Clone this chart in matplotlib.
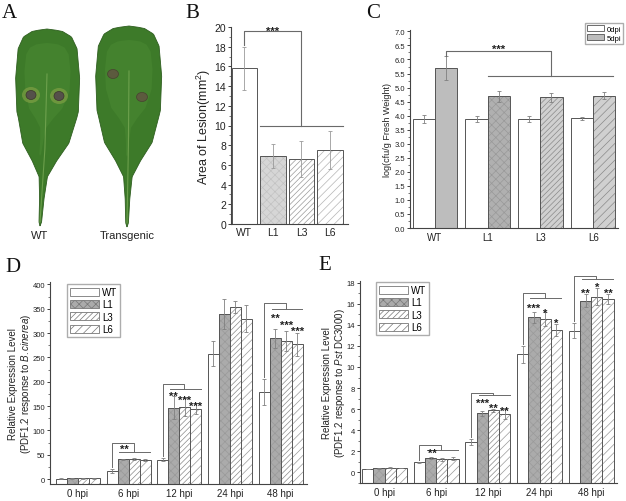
import numpy as np
import matplotlib
matplotlib.use("Agg")
import matplotlib.pyplot as plt
from matplotlib.patches import Polygon, Ellipse, Patch
from matplotlib.ticker import MultipleLocator, FormatStrFormatter

plt.rcParams["font.family"] = ["Liberation Sans", "DejaVu Sans"]
plt.rcParams["mathtext.fontset"] = "custom"
plt.rcParams["mathtext.rm"] = "Liberation Sans"
plt.rcParams["mathtext.it"] = "Liberation Sans:italic"
plt.rcParams["hatch.linewidth"] = 0.5

W, H = 626, 502

# ---- data ----
LINES = ["WT", "L1", "L3", "L6"]

# B: lesion area (mm^2)
lesion_area = [15.8, 6.9, 6.6, 7.5]
lesion_err = [2.2, 1.25, 1.85, 1.95]

# C: log(cfu/g fresh weight)
cfu_0dpi = [3.89, 3.89, 3.89, 3.91]
cfu_0dpi_err = [0.14, 0.10, 0.10, 0.05]
cfu_5dpi = [5.69, 4.69, 4.65, 4.71]
cfu_5dpi_err = [0.43, 0.20, 0.15, 0.12]

HPI = ["0 hpi", "6 hpi", "12 hpi", "24 hpi", "48 hpi"]

# D: PDF1.2 response to B. cinerea
bc_wt = [1.2, 17, 40, 258, 179]
bc_l1 = [1.3, 40.5, 147, 340, 289]
bc_l3 = [1.4, 41, 148, 354, 284]
bc_l6 = [1.3, 39, 145, 330, 277]
bc_wt_err = [0.3, 4, 3, 25, 27]
bc_l1_err = [0.3, 1.5, 24, 31, 19]
bc_l3_err = [0.3, 2, 19, 12, 21]
bc_l6_err = [0.3, 1.5, 12, 27, 24]
# group index -> (bracket top, right line)
bc_brackets = {1: (75, 55), 2: (195, 186), 4: (361, 349)}
bc_group_star = {1: ("**", 70)}
# group index -> stars over L1, L3, L6 and the heights they sit at
bc_bar_stars = {2: ["**", "***", "***"], 4: ["**", "***", "***"]}
bc_star_y = {2: [178, 170, 158], 4: [338, 325, 311]}

# E: PDF1.2 response to Pst DC3000
pst_wt = [0.31, 0.95, 2.88, 11.2, 13.45]
pst_l1 = [0.38, 1.33, 5.6, 14.7, 16.3]
pst_l3 = [0.45, 1.26, 5.88, 14.55, 16.65]
pst_l6 = [0.43, 1.3, 5.52, 13.5, 16.45]
pst_wt_err = [0.02, 0.08, 0.3, 0.8, 0.75]
pst_l1_err = [0.03, 0.10, 0.25, 0.5, 0.6]
pst_l3_err = [0.03, 0.15, 0.15, 0.7, 0.8]
pst_l6_err = [0.03, 0.12, 0.45, 0.6, 0.5]
pst_brackets = {1: (2.6, 2.15), 2: (7.55, 7.3), 3: (16.97, 16.5), 4: (18.63, 18.38)}
pst_group_star = {1: ("**", 2.15)}
pst_bar_stars = {2: ["***", "**", "**"], 3: ["***", "*", "*"], 4: ["**", "*", "**"]}
pst_star_y = {2: [6.95, 6.45, 6.2], 3: [15.95, 15.5, 14.55], 4: [17.4, 17.9, 17.4]}

EDGE = "#555555"
ERR = "#808080"
BRK = "#6a6a6a"
STYLES = [
    dict(face="white", hcol=EDGE, hatch=None),
    dict(face="#ababab", hcol="#9a9a9a", hatch="xxxx"),
    dict(face="white", hcol="#8a8a8a", hatch="//////"),
    dict(face="white", hcol="#9a9a9a", hatch="////"),
]
STAR_SIZE = 8


def rect(l, t, r, b):
    return [l / W, 1 - b / H, (r - l) / W, (b - t) / H]


def style_axes(ax, ylabsize=5.5):
    for s in ("top", "right"):
        ax.spines[s].set_visible(False)
    for s in ("left", "bottom"):
        ax.spines[s].set_color("#444444")
        ax.spines[s].set_linewidth(0.8)
    ax.tick_params(axis="y", which="major", direction="out", length=2.5, width=0.6,
                   labelsize=ylabsize, pad=1, colors="#222222")
    ax.tick_params(axis="y", which="minor", direction="out", length=1.5, width=0.5, colors="#444444")
    ax.tick_params(axis="x", length=0, pad=3, labelsize=7, colors="#222222")


def hatched_bar(ax, x, h, width, st, bottom=0):
    ax.bar(x, h, width, bottom=bottom, color=st["face"], edgecolor=st["hcol"],
           linewidth=0, hatch=st["hatch"])
    ax.bar(x, h, width, bottom=bottom, fill=False, edgecolor=EDGE, linewidth=0.7)


def star(ax, x, y, s):
    # the asterisk glyph sits high above the baseline; shift so its middle is at y
    ax.annotate(s, (x, y), xytext=(0, -0.58 * STAR_SIZE), textcoords="offset points",
                ha="center", va="baseline", fontsize=STAR_SIZE, fontweight="bold",
                color="#222222", annotation_clip=False)


def leaf_outline(cx, top, bottom, half_w, tip_x, skew=0.0):
    # generic leaf profile (fraction along length, fraction of half width)
    prof_s = [0, 0.01, 0.04, 0.1, 0.25, 0.42, 0.58, 0.67, 0.75, 0.86, 0.98, 1.0]
    prof_w = [0, 0.45, 0.75, 0.92, 1.0, 0.96, 0.72, 0.38, 0.13, 0.07, 0.04, 0.0]
    s = np.linspace(0, 1, 160)
    w = np.interp(s, prof_s, prof_w) * half_w
    y = top + s * (bottom - top)
    mid = cx + (tip_x - cx) * np.clip((s - 0.45) / 0.55, 0, 1)
    right = np.column_stack([mid + w * (1 + skew), y])
    left = np.column_stack([mid - w * (1 - skew), y])[::-1]
    return np.vstack([right, left])


fig = plt.figure(figsize=(W / 100, H / 100), dpi=100)

# ---- A: leaves ----
axA = fig.add_axes(rect(0, 0, 190, 250))
axA.set_xlim(0, 190)
axA.set_ylim(250, 0)
axA.axis("off")
leaves = [("WT", 47, 30, 227, 32, 40, 0.02), ("Transgenic", 129, 27, 228, 33, 127, -0.01)]
for name, cx, top, bottom, hw, tip, sk in leaves:
    pts = leaf_outline(cx, top, bottom, hw, tip, sk)
    axA.add_patch(Polygon(pts, closed=True, facecolor="#3d7a29", edgecolor="#2e5e1f", linewidth=0.6))
    inner = leaf_outline(cx, top + 14, bottom - 70, hw * 0.72, tip, sk)
    axA.add_patch(Polygon(inner, closed=True, facecolor="#4b8b33", edgecolor="none", alpha=0.5))
    axA.plot([cx, cx + (tip - cx) * 0.3, tip], [top + 45, top + 120, bottom - 4],
             color="#7fae5a", linewidth=0.8, alpha=0.7)
    axA.text(tip, 236, name, ha="center", va="center", fontsize=8, color="#222222")
wt_spots = [(31, 96), (59, 97)]
tg_spots = [(113, 75), (142, 98)]
for x, y in wt_spots:
    axA.add_patch(Ellipse((x, y), 18, 16, facecolor="#8fa84a", edgecolor="none", alpha=0.55))
    axA.add_patch(Ellipse((x, y), 10, 9, facecolor="#55504a", edgecolor="#3a342c", linewidth=0.5))
for x, y in tg_spots:
    axA.add_patch(Ellipse((x, y), 11, 9, facecolor="#5c5a3e", edgecolor="#474230", linewidth=0.5))

# ---- B: lesion area ----
axB = fig.add_axes(rect(231, 28, 348, 225))
style_axes(axB, ylabsize=7.5)
xb = np.arange(len(LINES))
b_styles = [
    STYLES[0],
    dict(face="#d6d6d6", hcol="#c2c2c2", hatch="xxxx"),
    dict(face="white", hcol="#9a9a9a", hatch="//////"),
    dict(face="white", hcol="#b5b5b5", hatch="////"),
]
for i in range(len(LINES)):
    hatched_bar(axB, xb[i], lesion_area[i], 0.88, b_styles[i])
axB.errorbar(xb, lesion_area, yerr=lesion_err, fmt="none", ecolor="#9a9a9a",
             elinewidth=0.6, capsize=1.5, capthick=0.6)
axB.set_xlim(-0.47, 3.63)
axB.set_ylim(0, 20)
axB.yaxis.set_major_locator(MultipleLocator(2))
axB.yaxis.set_minor_locator(MultipleLocator(1))
axB.set_xticks(xb, LINES)
axB.tick_params(axis="x", labelsize=7.5, pad=2)
axB.set_ylabel("Area of Lesion(mm$^2$)", fontsize=9, labelpad=1, color="#222222")
b_top = 19.6
axB.plot([0, 0, 2, 2], [lesion_area[0] + lesion_err[0] + 0.2, b_top, b_top, 9.9],
         color=BRK, linewidth=0.8, clip_on=False)
axB.plot([0.55, 3.45], [9.9, 9.9], color=BRK, linewidth=0.8)
star(axB, 1.0, 20.0, "***")

# ---- C: bacterial growth ----
axC = fig.add_axes(rect(410, 31, 618, 229))
style_axes(axC)
xc = np.arange(len(LINES))
wc = 0.42
c5_styles = [
    dict(face="#bdbdbd", hcol=EDGE, hatch=None),
    dict(face="#b0b0b0", hcol="#999999", hatch="xxxx"),
    dict(face="#d0d0d0", hcol="#8a8a8a", hatch="//////"),
    dict(face="#d0d0d0", hcol="#8a8a8a", hatch="////"),
]
for i in range(len(LINES)):
    hatched_bar(axC, xc[i] - wc / 2, cfu_0dpi[i], wc, STYLES[0])
    hatched_bar(axC, xc[i] + wc / 2, cfu_5dpi[i], wc, c5_styles[i])
axC.errorbar(xc - wc / 2, cfu_0dpi, yerr=cfu_0dpi_err, fmt="none", ecolor=ERR,
             elinewidth=0.6, capsize=1.2, capthick=0.6)
axC.errorbar(xc + wc / 2, cfu_5dpi, yerr=cfu_5dpi_err, fmt="none", ecolor=ERR,
             elinewidth=0.6, capsize=1.2, capthick=0.6)
axC.set_xlim(-0.47, 3.47)
axC.set_ylim(0, 7.05)
axC.yaxis.set_major_locator(MultipleLocator(0.5))
axC.yaxis.set_minor_locator(MultipleLocator(0.25))
axC.yaxis.set_major_formatter(FormatStrFormatter("%.1f"))
axC.set_xticks(xc, LINES)
axC.set_ylabel("log(cfu/g Fresh Weight)", fontsize=6.5, labelpad=2, color="#222222")
c_top, c_line = 6.32, 5.42
axC.plot([wc / 2, wc / 2, 2 + wc / 2, 2 + wc / 2],
         [cfu_5dpi[0] + cfu_5dpi_err[0] + 0.02, c_top, c_top, c_line], color=BRK, linewidth=0.8)
axC.plot([1.0, 3.37], [c_line, c_line], color=BRK, linewidth=0.8)
star(axC, 1.2, 6.5, "***")
axC.legend(handles=[Patch(facecolor="white", edgecolor=EDGE, linewidth=0.6, label="0dpi"),
                    Patch(facecolor="#bdbdbd", edgecolor=EDGE, linewidth=0.6, label="5dpi")],
           loc="upper right", bbox_to_anchor=(623 / W, 1 - 24 / H), bbox_transform=fig.transFigure,
           fontsize=5.5, frameon=True, fancybox=False, edgecolor="#999999", borderpad=0.25,
           labelspacing=0.15, handlelength=2.2, handleheight=0.9, handletextpad=0.3,
           borderaxespad=0)


# ---- D, E: PDF1.2 expression ----
def expression_panel(box, series, errs, ymin, ymax, major, minor, brackets, group_star,
                     bar_stars, star_y, ylabel, xlim, legend_box):
    ax = fig.add_axes(rect(*box))
    style_axes(ax)
    x = np.arange(len(HPI))
    width = 0.217
    offs = (np.arange(4) - 1.5) * width
    for i in range(4):
        vals = np.asarray(series[i], dtype=float)
        hatched_bar(ax, x + offs[i], vals - ymin, width, STYLES[i], bottom=ymin)
        ax.errorbar(x + offs[i], vals, yerr=errs[i], fmt="none", ecolor=ERR,
                    elinewidth=0.6, capsize=1.2, capthick=0.6)
    ax.set_xlim(*xlim)
    ax.set_ylim(ymin, ymax)
    ax.yaxis.set_major_locator(MultipleLocator(major))
    ax.yaxis.set_minor_locator(MultipleLocator(minor))
    ax.set_xticks(x, HPI)
    ax.set_ylabel(ylabel, fontsize=7, labelpad=0, color="#222222", linespacing=1.1)
    span = ymax - ymin
    for g, (top, line) in brackets.items():
        wt_top = series[0][g] + errs[0][g] + 0.01 * span
        ax.plot([g + offs[0], g + offs[0], g + 0.1, g + 0.1], [wt_top, top, top, line],
                color=BRK, linewidth=0.7, clip_on=False)
        ax.plot([g - 0.18, g + 0.42], [line, line], color=BRK, linewidth=0.7, clip_on=False)
    for g, (s, y) in group_star.items():
        star(ax, g - 0.08, y, s)
    for g, labels in bar_stars.items():
        for k, s in enumerate(labels):
            star(ax, g + offs[k + 1], star_y[g][k], s)
    handles = [Patch(facecolor=STYLES[i]["face"], edgecolor="#777777", linewidth=0.6,
                     hatch=STYLES[i]["hatch"], label=LINES[i]) for i in range(4)]
    ax.legend(handles=handles, loc="upper left",
              bbox_to_anchor=(legend_box[0] / W, 1 - legend_box[1] / H),
              bbox_transform=fig.transFigure, fontsize=7, frameon=True, fancybox=False,
              edgecolor="#999999", borderpad=0.3, labelspacing=0.25, handlelength=3.0,
              handleheight=0.9, handletextpad=0.3, borderaxespad=0)
    return ax


axD = expression_panel((50, 283, 307, 485), [bc_wt, bc_l1, bc_l3, bc_l6],
                       [bc_wt_err, bc_l1_err, bc_l3_err, bc_l6_err], -10, 405, 50, 25,
                       bc_brackets, bc_group_star, bc_bar_stars, bc_star_y,
                       "Relative Expression Level\n(PDF1.2 response to $\\it{B.cinerea}$)",
                       (-0.55, 4.52), (67, 285))
axE = expression_panel((360, 282, 617, 484), [pst_wt, pst_l1, pst_l3, pst_l6],
                       [pst_wt_err, pst_l1_err, pst_l3_err, pst_l6_err], -1.0, 18.15, 2, 1,
                       pst_brackets, pst_group_star, pst_bar_stars, pst_star_y,
                       "Relative Expression Level\n(PDF1.2 response to $\\it{Pst}$ DC3000)",
                       (-0.475, 4.5), (376, 283))

# ---- panel letters ----
for letter, px, py in [("A", 9, 14), ("B", 192, 14), ("C", 373, 14), ("D", 13, 268), ("E", 325, 266)]:
    fig.text(px / W, 1 - py / H, letter, fontsize=15, family="Liberation Serif",
             ha="center", va="center", color="#111111")

fig.savefig("out.png", dpi=100)
